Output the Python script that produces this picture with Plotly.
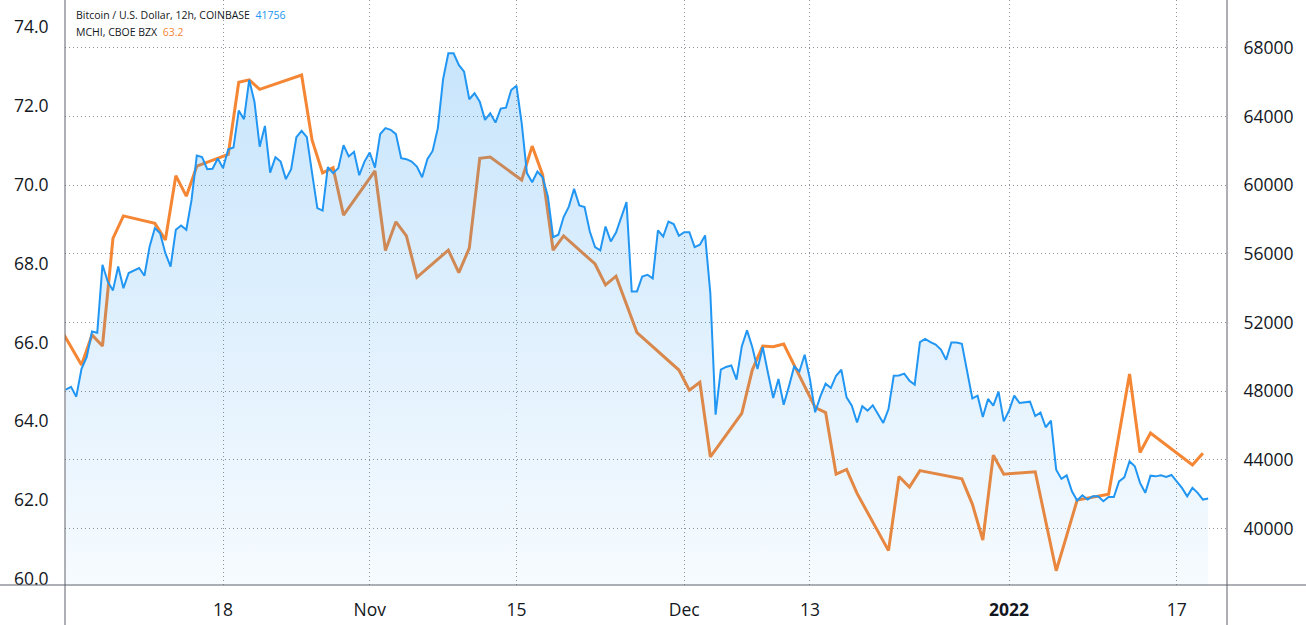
import pandas as pd
import plotly.graph_objects as go

# Bitcoin / U.S. Dollar, 12h bars (COINBASE), starting 2021-10-03 00:00
btc_close = [
    48090, 48250, 47680, 49300, 50000, 51480, 51400, 55360, 54390, 53870,
    55260, 54000, 54880, 55050, 55170, 54720, 56430, 57500, 57200, 56040,
    55260, 57400, 57650, 57400, 59140, 61720, 61630, 60930, 60950, 61550,
    60990, 62090, 62190, 64340, 63840, 66130, 64860, 62240, 63450, 60730,
    61630, 61370, 60350, 60930, 62790, 63160, 62790, 60700, 58660, 58520,
    61050, 60700, 60990, 62330, 61670, 61940, 60580, 61370, 61900, 61020,
    62980, 63320, 63220, 62970, 61570, 61510, 61370, 61080, 60460, 61510,
    61990, 63320, 66170, 67680, 67680, 67000, 66610, 65000, 65350, 64860,
    63800, 64190, 63640, 64460, 64510, 65540, 65790, 63610, 60700, 60170,
    60790, 60460, 59340, 56970, 57110, 58140, 58750, 59780, 58810, 58720,
    57300, 56390, 56200, 57590, 56720, 57240, 58080, 59010, 53810, 53810,
    54680, 54780, 54570, 57360, 57010, 57880, 57730, 57050, 57260, 57260,
    56390, 56530, 57070, 53700, 46630, 49250, 49410, 49500, 48670, 50610,
    51540, 50570, 49290, 50570, 49060, 47600, 48710, 47210, 48280, 49440,
    49150, 50120, 48710, 46770, 47700, 48440, 48190, 48900, 49250, 47640,
    47160, 46180, 47120, 46870, 47180, 46630, 46150, 46960, 48900, 48920,
    49020, 48610, 48380, 50860, 51050, 50860, 50710, 50420, 49830, 50840,
    50840, 50760, 49250, 47580, 47740, 46500, 47550, 47160, 47970, 46240,
    46870, 47740, 47310, 47350, 47390, 46550, 46750, 45900, 46280, 43430,
    42890, 43100, 42170, 41630, 41940, 41690, 41880, 41880, 41590, 41840,
    41840, 42750, 42980, 43920, 43630, 42660, 42080, 43080, 43040, 43100,
    43010, 43120, 42750, 42370, 41880, 42370, 42080, 41690, 41756,
]
btc_time = pd.date_range("2021-10-03 00:00", periods=len(btc_close), freq="12h")

# MCHI (CBOE BZX), one bar per trading day
mchi_days = [
    "2021-10-01", "2021-10-04", "2021-10-05", "2021-10-06", "2021-10-07", "2021-10-08",
    "2021-10-11", "2021-10-12", "2021-10-13", "2021-10-14", "2021-10-15",
    "2021-10-18", "2021-10-19", "2021-10-20", "2021-10-21", "2021-10-22",
    "2021-10-25", "2021-10-26", "2021-10-27", "2021-10-28", "2021-10-29",
    "2021-11-01", "2021-11-02", "2021-11-03", "2021-11-04", "2021-11-05",
    "2021-11-08", "2021-11-09", "2021-11-10", "2021-11-11", "2021-11-12",
    "2021-11-15", "2021-11-16", "2021-11-17", "2021-11-18", "2021-11-19",
    "2021-11-22", "2021-11-23", "2021-11-24", "2021-11-26",
    "2021-11-29", "2021-11-30", "2021-12-01", "2021-12-02", "2021-12-03",
    "2021-12-06", "2021-12-07", "2021-12-08", "2021-12-09", "2021-12-10",
    "2021-12-13", "2021-12-14", "2021-12-15", "2021-12-16", "2021-12-17",
    "2021-12-20", "2021-12-21", "2021-12-22", "2021-12-23",
    "2021-12-27", "2021-12-28", "2021-12-29", "2021-12-30", "2021-12-31",
    "2022-01-03", "2022-01-04", "2022-01-05", "2022-01-06", "2022-01-07",
    "2022-01-10", "2022-01-11", "2022-01-12", "2022-01-13", "2022-01-14",
    "2022-01-18", "2022-01-19",
]
mchi_close = [
    66.80, 65.43, 66.19, 65.91, 68.64, 69.21,
    69.02, 68.60, 70.23, 69.71, 70.47,
    70.77, 72.60, 72.66, 72.42, 72.51,
    72.78, 71.13, 70.30, 70.43, 69.23,
    70.35, 68.33, 69.06, 68.70, 67.65,
    68.34, 67.77, 68.39, 70.67, 70.70,
    70.12, 70.98, 70.25, 68.34, 68.70,
    67.99, 67.46, 67.68, 66.25,
    65.55, 65.30, 64.79, 64.99, 63.10,
    64.20, 65.30, 65.91, 65.89, 65.96,
    64.35, 64.22, 62.66, 62.78, 62.17,
    60.72, 62.60, 62.33, 62.75,
    62.54, 61.90, 60.99, 63.14, 62.66,
    62.72, 61.47, 60.21, 61.10, 62.00,
    62.15, 63.67, 65.20, 63.21, 63.70,
    62.89, 63.19,
]
mchi_time = [d + " 12:00" for d in mchi_days]

x_ticks = ["2021-10-18", "2021-11-01", "2021-11-15", "2021-12-01",
           "2021-12-13", "2022-01-01", "2022-01-17"]
x_labels = ["18", "Nov", "15", "Dec", "13", "<b>2022</b>", "17"]
mchi_ticks = [60.0, 62.0, 64.0, 66.0, 68.0, 70.0, 72.0, 74.0]
btc_ticks = [40000, 44000, 48000, 52000, 56000, 60000, 64000, 68000]

BLUE = "#2196F3"
ORANGE = "#F48634"
TEXT = "#131722"
GRID = "#8f929b"
EDGE = "#5d606b"
FONT = "Open Sans"

W, H = 1306, 625
ML, MR, MT, MB = 65, 79, 0, 40
PW, PH = W - ML - MR, H - MT - MB
BTC_LO, BTC_HI = 36713, 70781

fig = go.Figure()

fig.add_trace(go.Scatter(
    x=mchi_time, y=mchi_close, name="MCHI", yaxis="y",
    mode="lines", line=dict(color=ORANGE, width=3),
))
fig.add_trace(go.Scatter(
    x=btc_time, y=btc_close, name="BTCUSD", yaxis="y2",
    mode="lines", line=dict(color=BLUE, width=2),
    fill="tozeroy",
    fillgradient=dict(
        type="vertical",
        colorscale=[[0, "rgba(33,150,243,0.04)"], [1, "rgba(33,150,243,0.25)"]],
        start=BTC_LO, stop=68000,
    ),
))

tickfont = dict(family=FONT, size=17.5, color=TEXT)
fig.update_layout(
    width=W, height=H, autosize=False,
    margin=dict(l=ML, r=MR, t=MT, b=MB, pad=0),
    paper_bgcolor="white", plot_bgcolor="white",
    showlegend=False,
    font=dict(family=FONT, color=TEXT),
    xaxis=dict(
        type="date",
        range=["2021-10-02 22:10", "2022-01-21 19:10"],
        tickvals=x_ticks, ticktext=x_labels,
        tickfont=tickfont,
        ticks="outside", ticklen=9, tickcolor="rgba(0,0,0,0)",
        showgrid=True, gridcolor=GRID, griddash="1px,3px", gridwidth=1,
        showline=False, zeroline=False,
    ),
    yaxis=dict(
        side="left", range=[59.848, 74.685],
        tickvals=mchi_ticks, tickformat=".1f",
        tickfont=tickfont,
        ticks="outside", ticklen=12, tickcolor="rgba(0,0,0,0)",
        showgrid=False, zeroline=False, showline=False,
    ),
    yaxis2=dict(
        side="right", overlaying="y", range=[BTC_LO, BTC_HI],
        tickvals=btc_ticks, tickformat="d",
        tickfont=tickfont,
        ticks="outside", ticklen=12, tickcolor="rgba(0,0,0,0)",
        showgrid=True, gridcolor=GRID, griddash="1px,3px", gridwidth=1,
        zeroline=False, showline=False,
    ),
)

# frame lines: verticals run down to the page bottom, horizontal spans the page
edge = dict(color=EDGE, width=1)
fig.add_shape(type="line", xref="paper", yref="paper", x0=0, x1=0,
              y0=-MB / PH, y1=1, line=edge, layer="above")
fig.add_shape(type="line", xref="paper", yref="paper", x0=1, x1=1,
              y0=-MB / PH, y1=1, line=edge, layer="above")
fig.add_shape(type="line", xref="paper", yref="paper", x0=-ML / PW, x1=(W - ML) / PW,
              y0=0, y1=0, line=edge, layer="above")

# header lines with the last values
fig.add_annotation(
    xref="paper", yref="paper", x=9 / PW, y=1 - 15 / PH,
    xanchor="left", yanchor="middle", showarrow=False,
    font=dict(family=FONT, size=10.5, color=TEXT),
    text=f"Bitcoin / U.S. Dollar, 12h, COINBASE&nbsp;&nbsp;<span style='color:{BLUE}'>{btc_close[-1]}</span>",
)
fig.add_annotation(
    xref="paper", yref="paper", x=9 / PW, y=1 - 32 / PH,
    xanchor="left", yanchor="middle", showarrow=False,
    font=dict(family=FONT, size=10.5, color=TEXT),
    text=f"MCHI, CBOE BZX&nbsp;&nbsp;<span style='color:{ORANGE}'>{mchi_close[-1]:.1f}</span>",
)

fig.write_html("out.html", config={"displayModeBar": False},
               post_script="document.body.style.margin='0';")
